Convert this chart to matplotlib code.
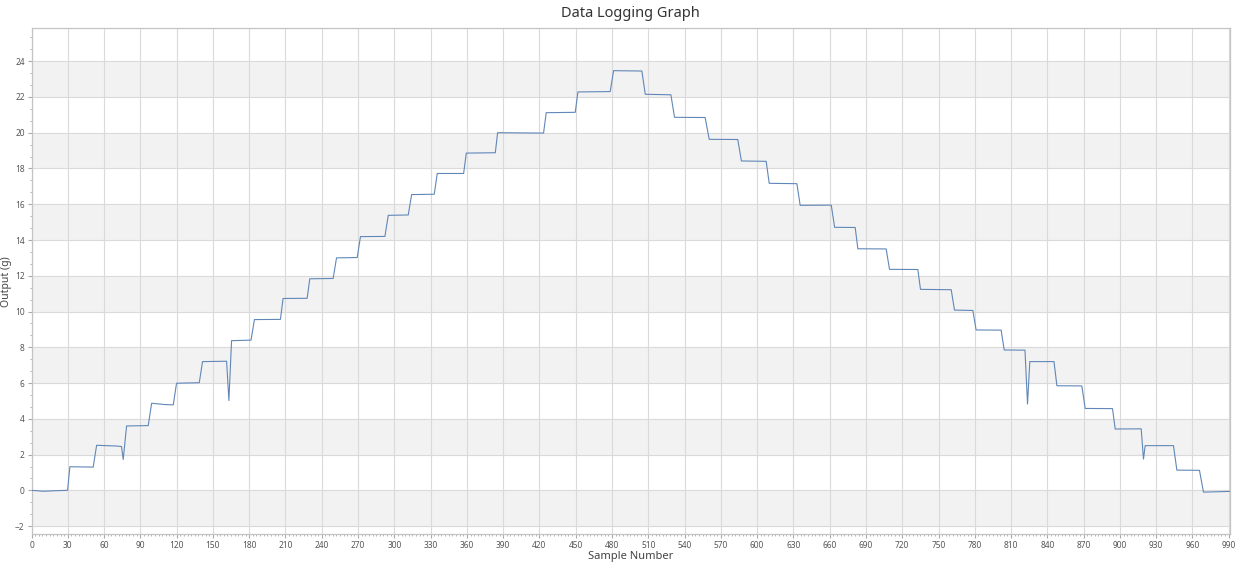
import numpy as np
import matplotlib
matplotlib.use('Agg')
import matplotlib.pyplot as plt
from matplotlib.ticker import MultipleLocator, AutoMinorLocator

plt.rcParams['font.family'] = ['Noto Sans', 'DejaVu Sans']

sample = [0, 10, 20, 29.8, 31.7, 51, 53.8, 70, 74.4, 75.8, 78.6, 96.5, 99.3, 110, 117.2,
          119.9, 138.7, 141.4, 161.3, 163.2, 165.4, 181.5, 184.3, 205.8, 208, 227.9, 230.1,
          249.4, 252.2, 269.3, 272, 292.2, 295, 311.5, 314.3, 333, 335.5, 357.3, 359.5,
          383.5, 385.4, 423.4, 425.6, 449.6, 451.8, 478.5, 481.3, 504.7, 507.5, 528.7,
          531.7, 557, 560.4, 584, 587, 607.5, 610, 632.9, 635.6, 661.3, 664.1, 681.1,
          683.3, 706.7, 709.5, 732.9, 735.1, 760.5, 763.2, 778.4, 781.1, 801.8, 804.3,
          821.5, 823.6, 825.5, 845.5, 847.9, 868.5, 871.3, 893.9, 896.1, 917.6, 919.5,
          920.9, 944.3, 947.1, 965.8, 969.1, 980, 991]
output = [0.0, -0.05, -0.02, 0.0, 1.32, 1.3, 2.52, 2.48, 2.45, 1.73, 3.6, 3.62, 4.87, 4.8, 4.78,
          5.99, 6.02, 7.2, 7.22, 5.02, 8.37, 8.4, 9.55, 9.56, 10.73, 10.74, 11.83,
          11.85, 13.0, 13.02, 14.19, 14.2, 15.38, 15.4, 16.54, 16.56, 17.72, 17.72, 18.86,
          18.88, 20.0, 19.98, 21.12, 21.14, 22.28, 22.3, 23.47, 23.45, 22.15, 22.12,
          20.86, 20.85, 19.63, 19.62, 18.42, 18.4, 17.17, 17.15, 15.94, 15.95, 14.71, 14.7,
          13.51, 13.5, 12.36, 12.35, 11.24, 11.22, 10.08, 10.06, 8.97, 8.96, 7.85,
          7.84, 4.83, 7.2, 7.2, 5.85, 5.84, 4.58, 4.57, 3.43, 3.44, 1.75,
          2.5, 2.5, 1.13, 1.12, -0.1, -0.08, -0.06]

xticks = list(range(0, 991, 30))
yticks = list(range(-2, 25, 2))

fig = plt.figure(figsize=(12.37, 5.68), dpi=100)
ax = fig.add_axes([0.0255, 0.0599, 0.9688, 0.8903])

# alternating grey bands
for i in range(0, len(yticks) - 1, 2):
    ax.axhspan(yticks[i], yticks[i + 1], color='#f2f2f2', zorder=0, lw=0)

ax.plot(sample, output, color='#6187b8', lw=0.8, zorder=3)

ax.set_xlim(0, 991)
ax.set_ylim(-2.44, 25.84)
ax.set_xticks(xticks)
ax.set_yticks(yticks)
ax.xaxis.set_minor_locator(AutoMinorLocator(10))
ax.yaxis.set_minor_locator(AutoMinorLocator(3))
ax.grid(True, which='major', color='#dadada', lw=0.8, zorder=1)
ax.set_axisbelow(True)

ax.tick_params(which='major', length=3, width=0.8, color='#aaaaaa', labelsize=6, labelcolor='#555555', pad=2)
ax.tick_params(which='minor', length=1.5, width=0.6, color='#aaaaaa')
for s in ax.spines.values():
    s.set_color('#c4c4c4')
    s.set_linewidth(0.9)

ax.set_title('Data Logging Graph', fontsize=10.5, color='#333333', pad=8)
ax.set_xlabel('Sample Number', fontsize=8, color='#444444', labelpad=1)
ax.set_ylabel('Output (g)', fontsize=7.5, color='#444444', labelpad=2)

fig.savefig('out.png', dpi=100)
